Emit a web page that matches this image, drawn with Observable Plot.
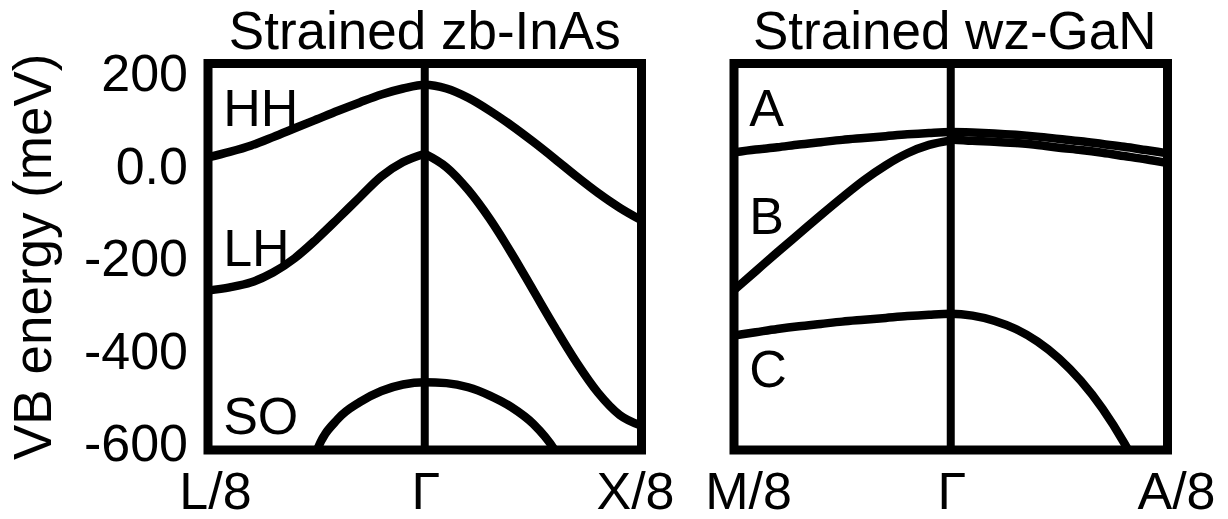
<!DOCTYPE html>
<html>
<head>
<meta charset="utf-8">
<script src="https://cdn.jsdelivr.net/npm/d3@7"></script>
<script src="https://cdn.jsdelivr.net/npm/@observablehq/plot@0.6"></script>
<style>
  html, body { margin: 0; padding: 0; background: #fff; }
  #fig { display: flex; width: 1228px; height: 519px; }
  #fig svg { flex: none; }
</style>
</head>
<body>
<div id="fig"></div>
<script>
// ---- text ----
const panelTitles = ["Strained zb-InAs", "Strained wz-GaN"];
const yLabel = "VB energy (meV)";
const yTicks = [200, 0, -200, -400, -600];
const xTickPos = [-1, 0, 1];
const zbTickLabels = ["L/8", "\u0393", "X/8"];
const wzTickLabels = ["M/8", "\u0393", "A/8"];

// ---- zb-InAs valence bands (k: fraction of the way to L/8 (<0) or X/8 (>0); E in meV) ----
const kFull = [-1, -0.9, -0.8, -0.7, -0.6, -0.5, -0.4, -0.3, -0.2, -0.1, 0,
               0.1, 0.2, 0.3, 0.4, 0.5, 0.6, 0.7, 0.8, 0.9, 1];
const hhE = [25, 37, 51, 69, 88, 107, 126, 144, 161, 174, 182,
             174, 154, 126, 94, 59, 22, -16, -52, -84, -111];
const kToL = [-1, -0.9, -0.8, -0.7, -0.6, -0.5, -0.4, -0.3, -0.2, -0.1, 0];
const lhToL = [-263, -256, -245, -224, -193, -152, -107, -61, -16, 15, 33];
const kToX = [0, 0.1, 0.2, 0.3, 0.4, 0.5, 0.6, 0.7, 0.8, 0.9, 1];
const lhToX = [33, 4, -45, -108, -182, -262, -342, -418, -484, -532, -555];
const soK = [-0.52, -0.5, -0.4, -0.3, -0.2, -0.1, 0, 0.1, 0.2, 0.3, 0.4, 0.5, 0.6, 0.65];
const soE = [-640, -612, -540, -504, -480, -466, -461, -463, -472, -490, -515, -551, -608, -650];

// ---- wz-GaN valence bands (k: fraction of the way to M/8 (<0) or A/8 (>0)) ----
const aE = [36, 42, 47, 53, 58, 63, 67, 71, 75, 78, 80,
            79, 77, 74, 70, 65, 60, 54, 48, 41, 34];
const bToM = [-262, -221, -180, -140, -100, -61, -24, 8, 34, 52, 62];
const bToA = [64, 61, 59, 56, 52, 46, 41, 35, 28, 21, 13];
const kC = [-1, -0.9, -0.8, -0.7, -0.6, -0.5, -0.4, -0.3, -0.2, -0.1, 0,
            0.1, 0.2, 0.3, 0.4, 0.5, 0.6, 0.7, 0.8, 0.9];
const cE = [-360, -353, -346, -340, -335, -330, -326, -322, -318, -315, -313,
            -317, -328, -346, -373, -410, -458, -518, -592, -680];

// ---- band names, placed inside each panel ----
const zbNames = ["HH", "LH", "SO"];
const zbNameE = [94, -209, -574];
const wzNames = ["A", "B", "C"];
const wzNameE = [94, -140, -472];
const nameK = -0.93;

const rows = (band, ks, es) => ks.map((k, i) => ({band, k, E: es[i]}));

const zbRows = [
  ...rows("HH", kFull, hhE),
  ...rows("LH-L", kToL, lhToL), ...rows("LH-X", kToX, lhToX),
  ...rows("SO", soK, soE)
];
const wzRows = [
  ...rows("A", kFull, aE),
  ...rows("B-M", kToL, bToM), ...rows("B-A", kToX, bToA),
  ...rows("C", kC, cE)
];

const FONT = "'Liberation Sans', Arial, Helvetica, sans-serif";
const yDomain = [-607.6, 228.1];
const H = 519, MT = 63, MB = 69.5;

function panel({width, marginLeft, marginRight, data, title, titleDx, tickLabels, tickDx, names, nameE, showY}) {
  const marks = [
    Plot.line(data, {x: "k", y: "E", z: "band", stroke: "black", strokeWidth: 8.5,
                     curve: "monotone-x", clip: true}),
    Plot.ruleX([0], {stroke: "black", strokeWidth: 8}),
    Plot.frame({stroke: "black", strokeWidth: 9}),
    Plot.text([title], {text: d => d, frameAnchor: "top", lineAnchor: "bottom",
                        dy: -15, dx: titleDx, fontSize: 53}),
    Plot.text(names, {text: d => d, x: () => nameK, y: (d, i) => nameE[i],
                      textAnchor: "start", lineAnchor: "bottom", fontSize: 52}),
    ...xTickPos.map((p, i) => Plot.text([p], {x: d => d, text: () => tickLabels[i],
                      frameAnchor: "bottom", lineAnchor: "bottom", dy: 59, dx: tickDx[i], fontSize: 52}))
  ];
  if (showY) {
    marks.push(
      Plot.axisY({ticks: yTicks, tickSize: 0, tickPadding: 20, fontSize: 52, dy: -2,
                  tickFormat: d => d === 0 ? "0.0" : String(d), label: null}),
      Plot.text([yLabel], {text: d => d, frameAnchor: "left", rotate: -90,
                           textAnchor: "middle", lineAnchor: "middle",
                           dx: -173.5, fontSize: 53})
    );
  }
  return Plot.plot({
    width, height: H, marginLeft, marginRight, marginTop: MT, marginBottom: MB,
    style: {fontFamily: FONT, background: "white", color: "black", overflow: "visible"},
    x: {domain: [-1, 1], axis: null},
    y: {domain: yDomain, axis: null},
    marks
  });
}

const fig = document.getElementById("fig");
fig.append(panel({
  width: 690, marginLeft: 207.5, marginRight: 49, data: zbRows,
  title: panelTitles[0], titleDx: 0, tickLabels: zbTickLabels, tickDx: [7.5, 1, -6],
  names: zbNames, nameE: zbNameE, showY: true
}));
fig.append(panel({
  width: 538, marginLeft: 43.5, marginRight: 61, data: wzRows,
  title: panelTitles[1], titleDx: 4, tickLabels: wzTickLabels, tickDx: [14.5, 1, 9],
  names: wzNames, nameE: wzNameE, showY: false
}));
</script>
</body>
</html>
